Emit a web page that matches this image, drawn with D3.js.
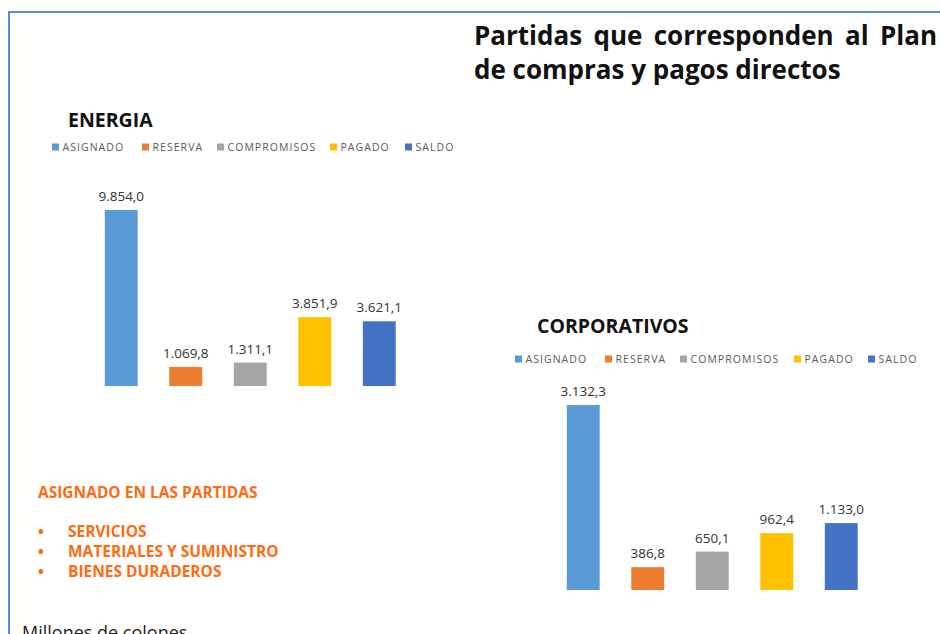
<!DOCTYPE html>
<html>
<head>
<meta charset="utf-8">
<script src="https://cdn.jsdelivr.net/npm/d3@7"></script>
<style>
  body { margin: 0; background: #fff; }
  svg { font-family: "Open Sans", "DejaVu Sans", sans-serif; }
</style>
</head>
<body>
<script>
// data
var categories = ["ASIGNADO", "RESERVA", "COMPROMISOS", "PAGADO", "SALDO"];
var colors = ["#5B9BD5", "#ED7D31", "#A5A5A5", "#FFC000", "#4472C4"];
var energiaValues = [9854.0, 1069.8, 1311.1, 3851.9, 3621.1];
var corporativosValues = [3132.3, 386.8, 650.1, 962.4, 1133.0];
var titleLines = ["Partidas que corresponden al Plan", "de compras y pagos directos"];
var noteTitle = "ASIGNADO EN LAS PARTIDAS";
var noteItems = ["SERVICIOS", "MATERIALES Y SUMINISTRO", "BIENES DURADEROS"];

var fmt = function(v) {
  var s = v.toFixed(1).split(".");
  return s[0].replace(/\B(?=(\d{3})+(?!\d))/g, ".") + "," + s[1];
};

var svg = d3.select("body")
            .append("svg")
            .attr("width", 940)
            .attr("height", 634);

// frame
svg.append("path")
   .attr("d", "M9,634 L9,12 L940,12")
   .attr("fill", "none")
   .attr("stroke", "#5B8BD0")
   .attr("stroke-width", 2);

// main title, justified first line
var title = svg.append("g")
               .attr("font-weight", "bold")
               .attr("font-size", 26)
               .attr("fill", "#111");
var t1 = title.append("text").attr("x", 474).attr("y", 45).text(titleLines[0]);
var w1 = t1.node().getComputedTextLength();
var gaps = titleLines[0].split(" ").length - 1;
t1.attr("word-spacing", Math.max(0, (937 - 474 - w1) / gaps));
title.append("text").attr("x", 474).attr("y", 79).text(titleLines[1]);

function drawChart(name, values, opts) {
  var g = svg.append("g");

  g.append("text")
   .attr("x", opts.titleX)
   .attr("y", opts.titleY)
   .attr("font-size", 19.5)
   .attr("font-weight", "bold")
   .attr("fill", "#111")
   .text(name);

  // legend
  var lg = g.selectAll("g.legend")
            .data(categories)
            .enter()
            .append("g")
            .attr("transform", function(d, i) {
              return "translate(" + opts.legendX[i] + "," + opts.legendY + ")";
            });
  lg.append("rect")
    .attr("x", 0).attr("y", -3.5)
    .attr("width", 7).attr("height", 7)
    .attr("fill", function(d, i) { return colors[i]; });
  lg.append("text")
    .attr("x", 10.5).attr("y", 4)
    .attr("font-size", 10.5)
    .attr("letter-spacing", 1.05)
    .attr("fill", "#595959")
    .text(function(d) { return d; });

  var x = d3.scaleBand()
            .domain(categories)
            .range(opts.xRange)
            .paddingInner(0.49)
            .paddingOuter(0.245);

  var y = d3.scaleLinear()
            .domain([0, d3.max(values)])
            .range([opts.base, opts.top]);

  g.selectAll("rect.bar")
   .data(values)
   .enter()
   .append("rect")
   .attr("class", "bar")
   .attr("x", function(d, i) { return x(categories[i]); })
   .attr("y", function(d) { return y(d); })
   .attr("width", x.bandwidth())
   .attr("height", function(d) { return y(0) - y(d); })
   .attr("fill", function(d, i) { return colors[i]; });

  g.selectAll("text.val")
   .data(values)
   .enter()
   .append("text")
   .attr("class", "val")
   .attr("x", function(d, i) { return x(categories[i]) + x.bandwidth() / 2; })
   .attr("y", function(d) { return y(d) - 9; })
   .attr("text-anchor", "middle")
   .attr("font-size", 13.5)
   .attr("fill", "#333")
   .text(function(d) { return fmt(d); });
}

drawChart("ENERGIA", energiaValues, {
  titleX: 68, titleY: 127,
  legendX: [52, 142, 217, 330, 405], legendY: 147,
  xRange: [89, 411.5], base: 386, top: 210
});

drawChart("CORPORATIVOS", corporativosValues, {
  titleX: 537, titleY: 333,
  legendX: [515, 605, 680, 794, 868], legendY: 359,
  xRange: [551, 873.5], base: 590, top: 405
});

// orange note
var note = svg.append("g")
              .attr("font-weight", "bold")
              .attr("font-size", 15.5)
              .attr("fill", "#FF6A10");
note.append("text").attr("x", 38).attr("y", 498).text(noteTitle);
noteItems.forEach(function(item, i) {
  note.append("text").attr("x", 38).attr("y", 537 + i * 20).text("\u2022");
  note.append("text").attr("x", 68).attr("y", 537 + i * 20).text(item);
});

svg.append("text")
   .attr("x", 22)
   .attr("y", 639)
   .attr("font-size", 18)
   .attr("fill", "#222")
   .text("Millones de colones");
</script>
</body>
</html>
